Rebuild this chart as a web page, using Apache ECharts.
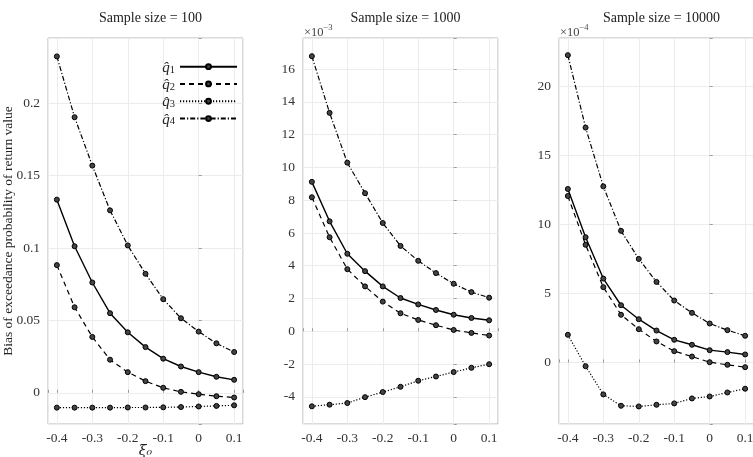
<!DOCTYPE html>
<html>
<head>
<meta charset="utf-8">
<script src="https://cdn.jsdelivr.net/npm/echarts@6/dist/echarts.min.js"></script>
<style>html,body{margin:0;padding:0;background:#fff}#c{width:753px;height:457px}</style>
</head>
<body>
<div id="c"></div>
<script>
// xi_0 values (shared x categories)
const xs = [-0.4, -0.35, -0.3, -0.25, -0.2, -0.15, -0.1, -0.05, 0, 0.05, 0.1];
const seriesNames = ['q1', 'q2', 'q3', 'q4'];
const panelTitles = ['Sample size = 100', 'Sample size = 1000', 'Sample size = 10000'];
const exponents = ['', '-3', '-4'];

// Sample size = 100 (raw values)
const n100_q1 = [0.1334, 0.1012, 0.0762, 0.0550, 0.0418, 0.0316, 0.0236, 0.0182, 0.0143, 0.0111, 0.0090];
const n100_q2 = [0.0882, 0.0591, 0.0386, 0.0229, 0.0143, 0.0081, 0.0035, 0.0007, -0.0009, -0.0023, -0.0032];
const n100_q3 = [-0.0102, -0.0102, -0.0102, -0.0102, -0.0101, -0.0101, -0.0100, -0.0098, -0.0094, -0.0090, -0.0086];
const n100_q4 = [0.2323, 0.1903, 0.1569, 0.1260, 0.1018, 0.0822, 0.0647, 0.0515, 0.0423, 0.0342, 0.0282];

// Sample size = 1000 (in units of 1e-3)
const n1000_q1 = [9.12, 6.71, 4.73, 3.67, 2.74, 2.03, 1.64, 1.30, 1.01, 0.81, 0.67];
const n1000_q2 = [8.18, 5.74, 3.79, 2.74, 1.81, 1.10, 0.69, 0.37, 0.08, -0.10, -0.26];
const n1000_q3 = [-4.58, -4.48, -4.38, -4.02, -3.71, -3.39, -3.02, -2.76, -2.49, -2.23, -2.01];
const n1000_q4 = [16.79, 13.33, 10.29, 8.43, 6.61, 5.21, 4.30, 3.55, 2.90, 2.39, 2.05];

// Sample size = 10000 (in units of 1e-4)
const n10000_q1 = [12.55, 9.06, 6.07, 4.14, 3.13, 2.31, 1.64, 1.28, 0.89, 0.75, 0.58];
const n10000_q2 = [12.04, 8.51, 5.45, 3.45, 2.41, 1.52, 0.82, 0.43, 0.02, -0.17, -0.34];
const n10000_q3 = [2.00, -0.27, -2.31, -3.13, -3.18, -3.06, -2.96, -2.60, -2.46, -2.17, -1.90];
const n10000_q4 = [22.23, 16.99, 12.74, 9.52, 7.49, 5.83, 4.48, 3.59, 2.82, 2.34, 1.93];

// y tick steps per panel (tick labels)
const yTickSteps = [0.05, 2, 5];
const xTickStep = 0.1;

const panels = [
  [n100_q1, n100_q2, n100_q3, n100_q4],
  [n1000_q1, n1000_q2, n1000_q3, n1000_q4],
  [n10000_q1, n10000_q2, n10000_q3, n10000_q4]
];

// ---- styling / layout ----
const FONT = '"Liberation Serif", "DejaVu Serif", serif';
const yLims = [[-0.0215, 0.245], [-5.66, 17.9], [-4.45, 23.47]];
const ySplit = [5, 10, 6];
const xLim = [-0.425, 0.125];
const gridLefts = [48, 303, 559];
const gridW = 195, gridTop = 38, gridH = 386;
const lineTypes = ['solid', [5, 4], [1.2, 1.8], [5, 2, 1.2, 2]];

function tickFmt(step) {
  return function (v) {
    const r = v / step;
    if (Math.abs(r - Math.round(r)) > 1e-6) return '';
    return String(Math.round(v * 10000) / 10000);
  };
}

const grids = [], xAxes = [], yAxes = [], series = [], titles = [], graphics = [];
for (let p = 0; p < 3; p++) {
  grids.push({ left: gridLefts[p], top: gridTop, width: gridW, height: gridH,
    outerBoundsMode: 'none', containLabel: false,
    show: true, borderColor: '#b4b4b4', borderWidth: 1 });
  xAxes.push({ type: 'value', gridIndex: p, min: xLim[0], max: xLim[1], splitNumber: 5,
    name: p === 0 ? '\u03be\u2080' : '', nameLocation: 'middle', nameGap: 20, nameMoveOverlap: false,
    nameTextStyle: { fontFamily: '"DejaVu Serif", serif', fontStyle: 'italic', fontSize: 14, color: '#222', verticalAlign: 'top' },
    axisLine: { show: false },
    axisTick: { show: true, inside: true, length: 3, lineStyle: { color: '#999' } },
    axisLabel: { formatter: tickFmt(xTickStep), fontFamily: FONT, fontSize: 13.5, color: '#333', margin: 7 },
    splitLine: { show: true, lineStyle: { color: '#ececec', width: 1 } } });
  yAxes.push({ type: 'value', gridIndex: p, min: yLims[p][0], max: yLims[p][1], splitNumber: ySplit[p],
    name: p === 0 ? 'Bias of exceedance probability of return value' : '',
    nameLocation: 'middle', nameGap: 33, nameMoveOverlap: false,
    nameTextStyle: { fontFamily: FONT, fontSize: 13.5, color: '#222' },
    axisLine: { show: false },
    axisTick: { show: true, inside: true, length: 3, lineStyle: { color: '#999' } },
    axisLabel: { formatter: tickFmt(yTickSteps[p]), fontFamily: FONT, fontSize: 13.5, color: '#333', margin: 8 },
    splitLine: { show: true, lineStyle: { color: '#ececec', width: 1 } } });
  titles.push({ text: panelTitles[p], left: gridLefts[p] + gridW / 2, top: 6, textAlign: 'center',
    textStyle: { fontFamily: FONT, fontSize: 14, fontWeight: 'normal', color: '#222' } });
  if (exponents[p]) {
    graphics.push({ type: 'text', left: gridLefts[p] + 1, top: 23,
      style: { text: '{a|\u00d710}{b|\u2212' + exponents[p].replace('-', '') + '}',
        rich: { a: { fontFamily: FONT, fontSize: 12.5, fill: '#444', verticalAlign: 'bottom' },
                b: { fontFamily: FONT, fontSize: 8.5, fill: '#444', verticalAlign: 'top', padding: [0, 0, 7, 0] } } } });
  }
  for (let s = 0; s < 4; s++) {
    series.push({ type: 'line', name: seriesNames[s], xAxisIndex: p, yAxisIndex: p,
      data: xs.map((x, i) => [x, panels[p][s][i]]),
      symbol: 'circle', symbolSize: 5, showSymbol: true,
      itemStyle: { color: '#444', borderColor: '#000', borderWidth: 1 },
      lineStyle: { color: '#000', width: s === 0 ? 1.4 : 1.2, type: lineTypes[s] },
      emphasis: { disabled: true }, animation: false, z: 3 });
  }
}

const chart = echarts.init(document.getElementById('c'), null, { renderer: 'canvas' });
chart.setOption({
  backgroundColor: '#fff',
  animation: false,
  title: titles,
  grid: grids,
  xAxis: xAxes,
  yAxis: yAxes,
  series: series,
  graphic: graphics,
  legend: {
    data: seriesNames, orient: 'vertical', align: 'right', right: 515, top: 58,
    itemWidth: 57, itemHeight: 6, itemGap: 0, selectedMode: false, padding: 0,
    formatter: function (n) { return '{q|q\u0302}{s|' + n.slice(1) + '}'; },
    textStyle: { fontFamily: FONT, fontSize: 15, color: '#222', lineHeight: 17.3,
      rich: { q: { fontFamily: FONT, fontSize: 15, fontStyle: 'italic', fill: '#222', lineHeight: 17.3, verticalAlign: 'bottom' },
              s: { fontFamily: FONT, fontSize: 10.5, fill: '#222', lineHeight: 17.3, verticalAlign: 'bottom' } } }
  }
});
</script>
</body>
</html>
